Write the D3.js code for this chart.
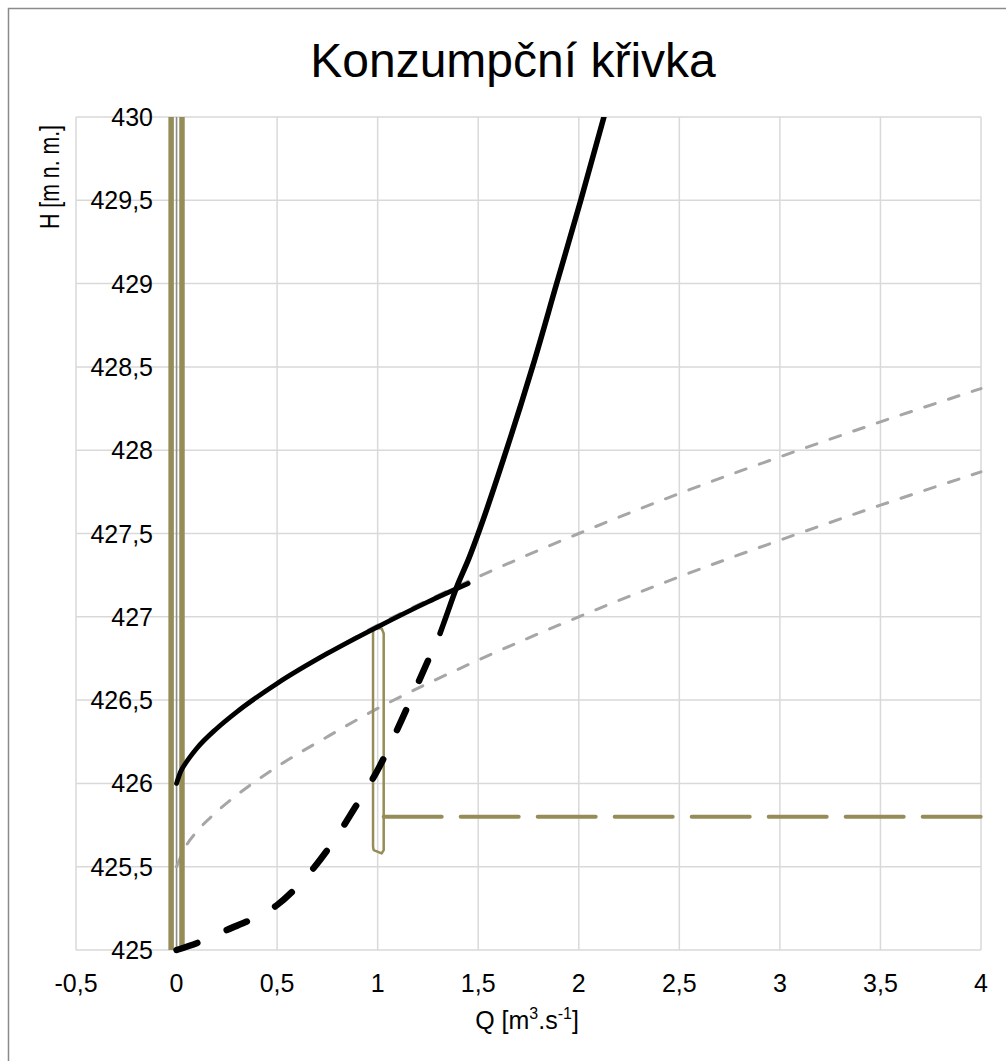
<!DOCTYPE html>
<html><head><meta charset="utf-8">
<script src="https://cdn.jsdelivr.net/npm/d3@7"></script>
<style>body{margin:0;background:#fff}svg{display:block}text{font-family:"Liberation Sans",Arial,sans-serif;fill:#000}</style>
</head><body>
<svg id="c" width="1006" height="1061"></svg>
<script>
// ---- data ----
const xTicks = [-0.5,0,0.5,1,1.5,2,2.5,3,3.5,4];
const yTicks = [425,425.5,426,426.5,427,427.5,428,428.5,429,429.5,430];
const fmt = v => String(v).replace('.', ',');

// gray dashed curves (lower and upper)
const grayQ = [0, 0.05, 0.1, 0.2, 0.3, 0.5, 0.75, 1, 1.25, 1.5, 2, 2.5, 3, 3.5, 4];
const grayLowerH = [425.5, 425.63, 425.71, 425.83, 425.93, 426.1, 426.28, 426.45, 426.6, 426.74, 427.0, 427.24, 427.46, 427.67, 427.87];
const grayUpperH = [426.0, 426.13, 426.21, 426.33, 426.43, 426.6, 426.78, 426.95, 427.1, 427.24, 427.5, 427.74, 427.96, 428.17, 428.37];

// black solid curve 1
const black1Q = [0, 0.02, 0.05, 0.1, 0.2, 0.3, 0.5, 0.75, 1, 1.25, 1.45];
const black1H = [426.0, 426.07, 426.13, 426.21, 426.33, 426.43, 426.6, 426.78, 426.94, 427.09, 427.2];

// black curve 2: dashed lower part
const black2dQ = [0, 0.12, 0.25, 0.4, 0.5, 0.6, 0.75, 0.9, 1.0, 1.1, 1.2, 1.31];
const black2dH = [425.0, 425.05, 425.12, 425.2, 425.27, 425.38, 425.6, 425.88, 426.08, 426.33, 426.6, 426.9];
// black curve 2: solid upper part
const black2sQ = [1.31, 1.34, 1.40, 1.45, 1.50, 1.64, 1.77, 1.89, 2.01, 2.125];
const black2sH = [426.9, 427.0, 427.2, 427.34, 427.5, 428.0, 428.5, 429.0, 429.5, 430.0];

// olive shapes
const oliveLeftQ = [-0.027, -0.027];
const oliveRightQ = [0.027, 0.027];
const oliveVertH = [425, 430];
const loopQ = [0.98, 1.02, 1.03, 1.03, 1.02, 0.98, 0.977, 0.977];
const loopH = [426.93, 426.93, 426.9, 425.6, 425.58, 425.6, 425.62, 426.9];
const oliveDashQ = [1.03, 4];
const oliveDashH = [425.8, 425.8];

// ---- chart ----
const svg = d3.select('#c');
const x = d3.scaleLinear().domain([-0.5, 4]).range([76, 981]);
const y = d3.scaleLinear().domain([425, 430]).range([950, 117]);
const zip = (a, b) => a.map((v, i) => [v, b[i]]);
const line = d3.line().x(d => x(d[0])).y(d => y(d[1])).curve(d3.curveMonotoneX);
const lineY = d3.line().x(d => x(d[0])).y(d => y(d[1])).curve(d3.curveMonotoneY);

// outer border
svg.append('rect').attr('x', 8.5).attr('y', 8.5).attr('width', 1020).attr('height', 1080)
  .attr('fill', 'none').attr('stroke', '#8a8a8a').attr('stroke-width', 1.5);

// title
svg.append('text').attr('x', 513).attr('y', 77).attr('text-anchor', 'middle')
  .style('font-size', '48px').text('Konzumpční křivka');

// grid
const g = svg.append('g');
g.selectAll('.vg').data(xTicks).join('line')
  .attr('x1', d => x(d)).attr('x2', d => x(d)).attr('y1', y(430)).attr('y2', y(425))
  .attr('stroke', '#d9d9d9').attr('stroke-width', 1.5);
g.selectAll('.hg').data(yTicks).join('line')
  .attr('x1', x(-0.5)).attr('x2', x(4)).attr('y1', d => y(d)).attr('y2', d => y(d))
  .attr('stroke', '#d9d9d9').attr('stroke-width', 1.5);
// y axis line at Q=0
g.append('line').attr('x1', x(0)).attr('x2', x(0)).attr('y1', y(430)).attr('y2', y(425))
  .attr('stroke', '#8c8c8c').attr('stroke-width', 1.5);

svg.append('defs').append('clipPath').attr('id', 'clip').append('rect')
  .attr('x', 60).attr('y', y(430)).attr('width', 940).attr('height', y(425) - y(430) + 8);
const p = svg.append('g').attr('clip-path', 'url(#clip)');

// gray dashed
[grayLowerH, grayUpperH].forEach(H => {
  p.append('path').attr('d', line(zip(grayQ, H))).attr('fill', 'none')
    .attr('stroke', '#a6a6a6').attr('stroke-width', 3).attr('stroke-linecap', 'round')
    .attr('stroke-dasharray', '11,14');
});

// olive shapes
const olive = '#968c58';
[oliveLeftQ, oliveRightQ].forEach(Q => {
  p.append('path').attr('d', d3.line().x(d => x(d[0])).y(d => y(d[1]))(zip(Q, oliveVertH)))
    .attr('stroke', olive).attr('stroke-width', 5.5).attr('fill', 'none');
});
p.append('path').attr('d', d3.line().x(d => x(d[0])).y(d => y(d[1])).curve(d3.curveLinearClosed)(zip(loopQ, loopH)))
  .attr('fill', 'none').attr('stroke', olive).attr('stroke-width', 2.5).attr('stroke-linejoin', 'round');
p.append('path').attr('d', d3.line().x(d => x(d[0])).y(d => y(d[1]))(zip(oliveDashQ, oliveDashH)))
  .attr('fill', 'none').attr('stroke', olive).attr('stroke-width', 4).attr('stroke-linecap', 'round')
  .attr('stroke-dasharray', '58,19');

// black dashed
p.append('path').attr('d', line(zip(black2dQ, black2dH))).attr('fill', 'none')
  .attr('stroke', '#000').attr('stroke-width', 6.5).attr('stroke-linecap', 'round')
  .attr('stroke-dasharray', '22,32');
// black solid
p.append('path').attr('d', lineY(zip(black2sQ, black2sH))).attr('fill', 'none')
  .attr('stroke', '#000').attr('stroke-width', 5.5).attr('stroke-linecap', 'round');
p.append('path').attr('d', line(zip(black1Q, black1H))).attr('fill', 'none')
  .attr('stroke', '#000').attr('stroke-width', 4.8).attr('stroke-linecap', 'round');

// tick labels
svg.selectAll('.yl').data(yTicks).join('text')
  .attr('x', 153).attr('y', d => y(d) + 9).attr('text-anchor', 'end')
  .style('font-size', '25px').text(d => fmt(d));
svg.selectAll('.xl').data(xTicks).join('text')
  .attr('x', d => x(d)).attr('y', 992).attr('text-anchor', 'middle')
  .style('font-size', '25px').text(d => fmt(d));

// axis titles
svg.append('text').attr('transform', 'translate(59,177) rotate(-90)').attr('text-anchor', 'middle')
  .style('font-size', '28px').attr('textLength', 104).attr('lengthAdjust', 'spacingAndGlyphs')
  .text('H [m n. m.]');
const xt = svg.append('text').attr('x', 527).attr('y', 1029).attr('text-anchor', 'middle').style('font-size', '25px');
xt.append('tspan').text('Q [m');
xt.append('tspan').attr('dy', -10).style('font-size', '16px').text('3');
xt.append('tspan').attr('dy', 10).text('.s');
xt.append('tspan').attr('dy', -10).style('font-size', '16px').text('-1');
xt.append('tspan').attr('dy', 10).text(']');
</script>
</body></html>
